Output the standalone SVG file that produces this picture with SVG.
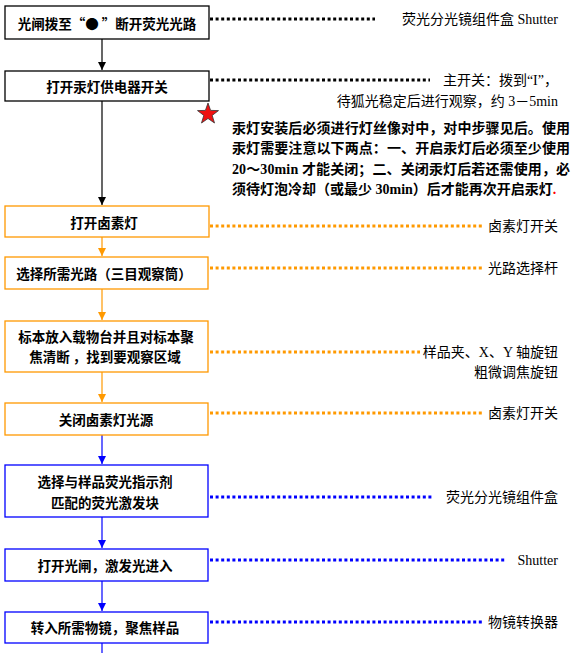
<svg xmlns="http://www.w3.org/2000/svg" width="574" height="653" viewBox="0 0 574 653">
<defs>
<style>
.box{fill:#fff;stroke-width:1.3}
.bk{stroke:#000}.or{stroke:#FF9900}.bl{stroke:#0000FF}
.bt{font-family:"Noto Sans CJK SC","Liberation Sans",sans-serif;font-size:13.5px;font-weight:bold;fill:#000;text-anchor:middle;dominant-baseline:central}
.lb{font-family:"Liberation Serif","Noto Sans CJK SC",serif;font-size:14px;fill:#000;text-anchor:end;dominant-baseline:central}
.nt{font-family:"Liberation Serif","Noto Sans CJK SC",serif;font-size:14px;font-weight:bold;fill:#000;dominant-baseline:central}
.dot{fill:none;stroke-width:3;stroke-dasharray:3 2.6}
.ln{fill:none;stroke-width:1.2}
</style>
<marker id="ao" markerWidth="9" markerHeight="9" refX="8" refY="4.5" orient="auto" markerUnits="userSpaceOnUse" viewBox="0 0 9 9"><path d="M0,0.5 L8,4.5 L0,8.5 Z" fill="#FF9900"/></marker>
<marker id="ak" markerWidth="9" markerHeight="9" refX="8" refY="4.5" orient="auto" markerUnits="userSpaceOnUse" viewBox="0 0 9 9"><path d="M0,0.5 L8,4.5 L0,8.5 Z" fill="#000"/></marker>
<marker id="au" markerWidth="9" markerHeight="9" refX="8" refY="4.5" orient="auto" markerUnits="userSpaceOnUse" viewBox="0 0 9 9"><path d="M0,0.5 L8,4.5 L0,8.5 Z" fill="#0000FF"/></marker>
</defs>

<g id="connectors">
<line class="ln bk" x1="102" y1="39" x2="102" y2="70" marker-end="url(#ak)"/>
<line class="ln bk" x1="102" y1="101" x2="102" y2="205" marker-end="url(#ak)"/>
<line class="ln or" x1="102" y1="237" x2="102" y2="256" marker-end="url(#ao)"/>
<line class="ln or" x1="102" y1="289" x2="102" y2="320" marker-end="url(#ao)"/>
<line class="ln or" x1="102" y1="372" x2="102" y2="402" marker-end="url(#ao)"/>
<line class="ln bl" x1="102" y1="435" x2="102" y2="464" marker-end="url(#au)"/>
<line class="ln bl" x1="102" y1="517" x2="102" y2="548" marker-end="url(#au)"/>
<line class="ln bl" x1="102" y1="581" x2="102" y2="611" marker-end="url(#au)"/>
<line class="ln bl" x1="102" y1="643" x2="102" y2="653"/>

<line class="dot bk" x1="210" y1="19" x2="375" y2="19"/>
<line class="dot bk" x1="210" y1="80" x2="430" y2="80"/>
<line class="dot or" x1="210" y1="226" x2="482" y2="226"/>
<line class="dot or" x1="210" y1="268" x2="482" y2="268"/>
<line class="dot or" x1="210" y1="352" x2="420" y2="352"/>
<line class="dot or" x1="210" y1="413" x2="482" y2="413"/>
<line class="dot bl" x1="210" y1="497" x2="433" y2="497"/>
<line class="dot bl" x1="210" y1="560" x2="506" y2="560"/>
<line class="dot bl" x1="210" y1="622" x2="482" y2="622"/>
</g>

<g id="n1"><rect class="box bk" x="5" y="6" width="204" height="33"/><text class="bt" x="107" y="23">光闸拨至“● ”断开荧光光路</text></g>
<g id="n2"><rect class="box bk" x="5" y="71" width="204" height="30"/><text class="bt" x="107" y="86">打开汞灯供电器开关</text></g>
<g id="n3"><rect class="box or" x="5" y="206" width="204" height="31"/><text class="bt" x="104" y="222">打开卤素灯</text></g>
<g id="n4"><rect class="box or" x="5" y="257" width="203" height="32"/><text class="bt" x="104" y="273">选择所需光路（三目观察筒）</text></g>
<g id="n5"><rect class="box or" x="5" y="321" width="203" height="51"/><text class="bt" x="106" y="336">标本放入载物台并且对标本聚</text><text class="bt" x="105" y="356">焦清断 ，找到要观察区域</text></g>
<g id="n6"><rect class="box or" x="5" y="403" width="203" height="32"/><text class="bt" x="106" y="419">关闭卤素灯光源</text></g>
<g id="n7"><rect class="box bl" x="5" y="465" width="203" height="52"/><text class="bt" x="105" y="481">选择与样品荧光指示剂</text><text class="bt" x="105" y="502">匹配的荧光激发块</text></g>
<g id="n8"><rect class="box bl" x="5" y="549" width="203" height="32"/><text class="bt" x="105" y="565">打开光闸，激发光进入</text></g>
<g id="n9"><rect class="box bl" x="5" y="612" width="203" height="31"/><text class="bt" x="105" y="627">转入所需物镜，聚焦样品</text></g>

<g id="labels">
<text class="lb" x="558" y="19">荧光分光镜组件盒 Shutter</text>
<text class="lb" x="558" y="80">主开关：拨到“I”，</text>
<text class="lb" x="558" y="101">待狐光稳定后进行观察，约 3－5min</text>
<text class="lb" x="558" y="226">卤素灯开关</text>
<text class="lb" x="558" y="268">光路选择杆</text>
<text class="lb" x="558" y="352">样品夹、X、Y 轴旋钮</text>
<text class="lb" x="558" y="372">粗微调焦旋钮</text>
<text class="lb" x="558" y="413">卤素灯开关</text>
<text class="lb" x="558" y="497">荧光分光镜组件盒</text>
<text class="lb" x="558" y="560">Shutter</text>
<text class="lb" x="558" y="622">物镜转换器</text>
</g>

<g id="note">
<polygon points="208,103 210.6,110.4 218.5,110.6 212.2,115.4 214.5,123 208,118.5 201.5,123 203.8,115.4 197.5,110.6 205.4,110.4" fill="#EE1111" stroke="#333" stroke-width="0.8"/>
<text class="nt" x="232" y="128" textLength="338" lengthAdjust="spacing">汞灯安装后必须进行灯丝像对中，对中步骤见后。使用</text>
<text class="nt" x="232" y="148" textLength="338" lengthAdjust="spacing">汞灯需要注意以下两点：一、开启汞灯后必须至少使用</text>
<text class="nt" x="232" y="169" textLength="338" lengthAdjust="spacing">20～30min 才能关闭；二、关闭汞灯后若还需使用，必</text>
<text class="nt" x="232" y="189">须待灯泡冷却（或最少 30min）后才能再次开启汞灯<tspan fill="#FF0000">.</tspan></text>
</g>
</svg>
